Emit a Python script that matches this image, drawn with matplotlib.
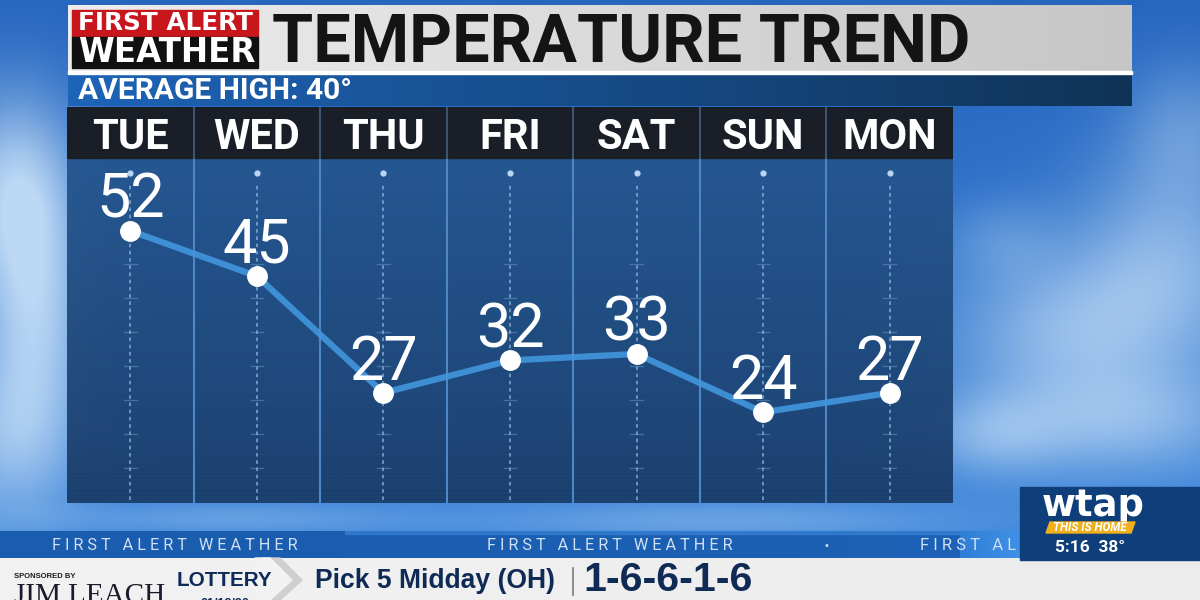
import numpy as np
import matplotlib
matplotlib.use('Agg')
import matplotlib.pyplot as plt
from matplotlib.patches import Rectangle, Polygon
from matplotlib.colors import to_rgb

# ---------------- data ----------------
days = ['TUE', 'WED', 'THU', 'FRI', 'SAT', 'SUN', 'MON']
highs = [52, 45, 27, 32, 33, 24, 27]
title = 'TEMPERATURE TREND'
subtitle = 'AVERAGE HIGH: 40°'
brand_top = 'FIRST ALERT'
brand_bottom = 'WEATHER'
ticker_text = 'F I R S T   A L E R T   W E A T H E R'
ticker_cut = 'F I R S T   A L'
sponsor_label = 'SPONSORED BY'
sponsor_name = 'JIM LEACH'
lottery_label = 'LOTTERY'
lottery_date = '01/12/26'
lottery_game = 'Pick 5 Midday (OH)'
lottery_numbers = '1-6-6-1-6'
station = 'wtap'
station_slogan = 'THIS IS HOME'
clock = '5:16'
current_temp = '38°'

W, H = 1200, 600
fig = plt.figure(figsize=(12, 6), dpi=100)
bg = fig.add_axes([0, 0, 1, 1])
bg.axis('off')
renderer = fig.canvas.get_renderer()

SANS = ['Roboto', 'DejaVu Sans']
NARROW = ['Liberation Sans Narrow', 'Roboto', 'DejaVu Sans']
WIDE = ['DejaVu Sans']
ARIAL = ['Liberation Sans', 'DejaVu Sans']

# ---------------- sky background ----------------
yy, xx = np.mgrid[0:H, 0:W].astype(float)
f = (yy / H)[..., None]
top = np.array([0.15, 0.40, 0.75])
bot = np.array([0.25, 0.54, 0.87])
sky = top * (1 - f) + bot * f
clouds = [(15, 190, 45, 70, 0.85), (35, 320, 40, 80, 0.75), (10, 440, 50, 60, 0.6),
          (1060, 330, 80, 50, 0.55), (1165, 265, 70, 70, 0.6), (1120, 420, 90, 40, 0.6),
          (990, 435, 50, 30, 0.45), (1185, 130, 45, 50, 0.35), (720, 520, 170, 14, 0.35),
          (230, 518, 130, 12, 0.3), (1000, 240, 40, 30, 0.25)]
c = np.zeros((H, W))
for cx, cy, sx, sy, a in clouds:
    c += a * np.exp(-(((xx - cx) / sx) ** 2 + ((yy - cy) / sy) ** 2) / 2)
c = np.clip(c, 0, 1)[..., None]
white = np.array([0.74, 0.85, 0.96])
sky = sky * (1 - c) + white * c
bg.imshow(sky, extent=(0, W, H, 0), zorder=0, interpolation='bilinear', aspect='auto')


def hgrad(x0, x1, y0, y1, c0, c1, z, alpha=1.0):
    t = np.linspace(0, 1, 256)[None, :, None]
    arr = np.array(to_rgb(c0)) * (1 - t) + np.array(to_rgb(c1)) * t
    bg.imshow(arr, extent=(x0, x1, y1, y0), aspect='auto', zorder=z,
              alpha=alpha, interpolation='bilinear')


def fit_text(x0, x1, y, s, fs, va='center', **kw):
    t = bg.text(x0, y, s, fontsize=fs, ha='left', va=va, **kw)
    w = t.get_window_extent(renderer).width
    t.set_fontsize(fs * (x1 - x0) / w)
    return t


# ---------------- header ----------------
hgrad(68, 1132, 5, 73, '#eeeeee', '#c6c6c6', 2)
bg.add_patch(Rectangle((68, 71), 1064, 3, color='white', zorder=3))
hgrad(68, 1132, 74, 106, '#1e64b8', '#0f3357', 2)
bg.add_patch(Rectangle((72, 10), 186, 27, color='#c8161d', zorder=3))
bg.add_patch(Rectangle((72, 37), 186, 31, color='#111111', zorder=3))
fit_text(78, 253, 23.5, brand_top, 14, family=WIDE, weight='bold', color='white', zorder=4)
fit_text(78, 255, 53, brand_bottom, 20, family=WIDE, weight='bold', color='white', zorder=4)
fit_text(272, 970, 43, title, 50, family=SANS, weight='bold', color='#141414', zorder=4)
fit_text(78, 352, 91, subtitle, 22, family=NARROW, weight='bold', color='white', zorder=4)

# ---------------- bottom bands ----------------
hgrad(0, 1020, 531, 558, '#1a5cae', '#1d62b6', 2)
bg.add_patch(Rectangle((345, 531), 675, 3, color='#3b86d8', zorder=3, alpha=0.6))
hgrad(960, 1020, 531, 558, '#2f7fd6', '#3f90e6', 3)
fit_text(52, 298, 546, ticker_text, 9, family=SANS, color='#cfe0f2', zorder=4)
fit_text(487, 732, 546, ticker_text, 9, family=SANS, color='#cfe0f2', zorder=4)
bg.text(826, 546, '•', fontsize=7, color='#cfe0f2', ha='center', va='center', zorder=4)
fit_text(920, 1016, 546, ticker_cut, 9, family=SANS, color='#cfe0f2', zorder=4)

hgrad(0, 1200, 558, 600, '#f2f2f2', '#ececec', 3)
bg.add_patch(Polygon([[262, 558], [280, 558], [302, 580], [280, 600], [262, 600]],
                     closed=True, color='#cfcfcf', zorder=4))
bg.add_patch(Polygon([[255, 558], [270, 558], [292, 580], [270, 600], [255, 600]],
                     closed=True, color='#f2f2f2', zorder=4))
bg.text(14, 576, sponsor_label, fontsize=5.5, weight='bold', family=ARIAL,
        color='#1a1a1a', va='center', zorder=5)
fit_text(14, 165, 583, sponsor_name, 26, va='top', family=['Liberation Serif', 'DejaVu Serif'],
         color='#1a1a2a', zorder=5)
fit_text(177, 273, 581, lottery_label, 15, family=ARIAL, weight='bold', color='#0d2a5a', zorder=5)
bg.text(225, 598, lottery_date, fontsize=9, family=ARIAL, weight='bold', color='#0d2a5a',
        ha='center', va='top', zorder=5)
fit_text(315, 555, 581, lottery_game, 22, family=ARIAL, weight='bold', color='#0e2a55', zorder=5)
bg.plot([573, 573], [568, 595], color='#7a7a7a', lw=1.2, zorder=5)
fit_text(583, 752, 580, lottery_numbers, 26, family=ARIAL, weight='bold', color='#0e2a55', zorder=5)

# ---------------- station bug ----------------
bg.add_patch(Rectangle((1020, 487), 180, 73, color='#0f3f7a', zorder=5))
fit_text(1042, 1145, 516, station, 26, va='baseline', family=WIDE, weight='bold',
         color='white', zorder=6)
bg.add_patch(Polygon([[1050, 522], [1135, 522], [1131, 533], [1046, 533]], closed=True,
                     color='#f0b01c', zorder=6))
fit_text(1053, 1127, 527.5, station_slogan, 7, family=SANS, weight='bold', style='italic',
         color='white', zorder=7)
fit_text(1055, 1125, 548, clock + '  ' + current_temp, 13, family=SANS, weight='bold',
         color='white', zorder=6)

bg.set_xlim(0, W)
bg.set_ylim(H, 0)

# ---------------- chart panel ----------------
ax = fig.add_axes([67 / W, (H - 503) / H, 886 / W, 396 / H])
ax.patch.set_visible(False)
ax.axis('off')
x = np.arange(len(days))
ymin, ymax, yhead = 10.0, 71.1, 63.3
ax.set_xlim(-0.5, len(days) - 0.5)

t = np.linspace(0, 1, 256)[:, None, None]
c_top, c_bot = np.array(to_rgb('#25568f')), np.array(to_rgb('#1b3f6c'))
ax.imshow(c_top * (1 - t) + c_bot * t, extent=(-0.5, len(days) - 0.5, ymin, yhead),
          aspect='auto', zorder=0, alpha=0.96)
ax.axhspan(yhead, ymax, color='#1a1f27', zorder=1)

# faint wave texture near the bottom
xs = np.linspace(-0.5, len(days) - 0.5, 3000)
for k in range(14):
    y0 = 10.6 + 0.65 * k
    ax.plot(xs, y0 + 0.12 * np.sin(xs * 2 * np.pi * 16 + k), color='#14305a',
            lw=0.7, alpha=0.35 * (1 - k / 14), zorder=1)

for b in x[:-1] + 0.5:
    ax.plot([b, b], [ymin, yhead], color='#4f86c4', lw=1.5, zorder=2)
    ax.plot([b, b], [yhead, ymax], color='#3e5370', lw=1.5, zorder=2)

for d, lab in zip(x, days):
    ax.text(d, 66.4, lab, ha='center', va='center', fontsize=30, weight='bold',
            family=SANS, color='white', zorder=3)

# dotted guides with small ticks
guide_ticks = 46.9 - 5.25 * np.arange(7)
for d in x:
    ax.plot([d, d], [10.5, 59.1], color='#8fb8e4', lw=1.3, ls=(0, (2, 2)), alpha=0.75, zorder=2)
    ax.plot(d, 60.95, 'o', ms=4.5, color='#b9d5f2', mec='none', zorder=2)
    for tv in guide_ticks:
        ax.plot([d - 0.05, d + 0.05], [tv, tv], color='#8fb8e4', lw=1, alpha=0.35, zorder=2)

ax.plot(x, highs, color='#4296de', lw=4.5, alpha=0.9, solid_capstyle='round', zorder=5)
ax.plot(x, highs, 'o', ms=14, mfc='white', mec='white', ls='none', zorder=6)
for d, v in zip(x, highs):
    ax.annotate(str(v), (d, v), xytext=(0, 9.5), textcoords='offset points',
                ha='center', va='baseline', fontsize=44, weight='normal',
                family=SANS, color='white', zorder=7)
ax.set_ylim(ymin, ymax)

fig.savefig('out.png', dpi=100)
